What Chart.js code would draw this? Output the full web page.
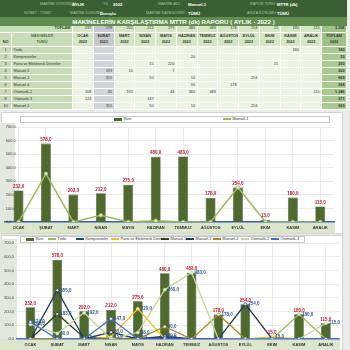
<!DOCTYPE html>
<html lang="tr">
<head>
<meta charset="utf-8">
<script src="https://cdn.jsdelivr.net/npm/chart.js@4.4.1/dist/chart.umd.min.js"></script>
<style>
  body { margin: 0; width: 350px; height: 350px; overflow: hidden; background: #ececec; position: relative;
         font-family: "Liberation Sans", Arial, sans-serif; }
  #topBar { position: absolute; left: 0; top: 0; width: 347px; height: 17px; background: #3b5f34; }
  .lbl { position: absolute; font-size: 3.8px; color: #a8c39a; white-space: nowrap; }
  .val { position: absolute; font-size: 4.2px; color: #fff; font-weight: bold; white-space: nowrap; }
  #title { position: absolute; left: 0; top: 17px; width: 347px; height: 9px; background: #5e8d4d; color: #fff;
           font-weight: bold; font-size: 6.2px; line-height: 9px; text-align: center; white-space: nowrap; }
  #tbl { position: absolute; left: 0; top: 0; }
  .c { position: absolute; box-sizing: border-box; border-right: 1px solid #fff; border-bottom: 1px solid #fff;
       font-size: 3.8px; color: #333; white-space: nowrap; overflow: hidden; padding: 0 1.5px; }
  .box { position: absolute; left: 1px; width: 342px; background: #fff; border: 1px solid #cfd3cc; box-sizing: border-box; }
  .legend { position: absolute; height: 7px; border: 1px solid #c8c8c8; box-sizing: border-box; background: #fff;
            font-size: 3.8px; color: #333; }
  .item { position: absolute; top: 0; height: 5px; line-height: 5px; white-space: nowrap; }
  .sw { display: inline-block; vertical-align: middle; margin-right: 1.5px; }
  canvas { position: absolute; left: 0; }
</style>
</head>
<body>
<div id="topBar"></div>
<div id="title">MAKİNELERİN KARŞILAŞTIRMA MTTR (dk) RAPORU ( AYLIK - 2022 )</div>
<div id="tbl"></div>
<div class="box" style="top:112px;height:122px;"></div>
<div class="box" style="top:235px;height:116px;"></div>
<canvas id="c1" width="344" height="120" style="top:113px;"></canvas>
<canvas id="c2" width="344" height="116" style="top:234px;"></canvas>
<div class="legend" id="leg1" style="left:20px;top:116px;width:310px;"></div>
<div class="legend" id="leg2" style="left:20px;top:236px;width:285px;"></div>
<script>
const months = ["OCAK", "ŞUBAT", "MART", "NİSAN", "MAYIS", "HAZİRAN", "TEMMUZ", "AĞUSTOS", "EYLÜL", "EKİM", "KASIM", "ARALIK"];
const year = "2022";
const sure = [232, 578, 202, 212, 275, 480, 483, 178, 254, 15, 180, 115];

const machineNo = [1, 2, 3, 4, 5, 6, 7, 8, 10];
const machineNames = ["Trafo", "Kompresörler", "Pano ve Elektronik Devreler", "Manuel-5", "Manuel-1", "Manuel-4", "Otomatik-2", "Otomatik-3", "Manuel-1"];
const trafo = [0, 0, 0, 0, 0, 0, 0, 0, 0, 0, 180, 0];
const kompresorler = [0, 0, 0, 0, 0, 20, 0, 0, 0, 0, 0, 0];
const pano = [0, 0, 0, 15, 220, 0, 0, 0, 0, 15, 0, 0];
const manuel5 = [0, 183, 10, 0, 7, 0, 0, 0, 0, 0, 0, 0];
const manuel1 = [0, 355, 0, 50, 0, 10, 0, 0, 254, 0, 0, 0];
const manuel4 = [0, 0, 0, 0, 0, 90, 0, 178, 0, 0, 0, 0];
const otomatik2 = [108, 40, 192, 0, 48, 360, 483, 0, 0, 0, 0, 115];
const otomatik3 = [124, 0, 0, 147, 0, 0, 0, 0, 0, 0, 0, 0];
const machineRows = [trafo, kompresorler, pano, manuel5, manuel1, manuel4, otomatik2, otomatik3, manuel1];

const lineColors = ["#9bbb59", "#1f497d", "#f2c314", "#2e3b1c", "#203864", "#a68a1a", "#c3d69b", "#3f6fd1"];
const yTicks = [0, 100, 200, 300, 400, 500, 600, 700];

const fmtNum = n => String(n).replace(/\B(?=(\d{3})+(?!\d))/g, ".");
const fmtVal = v => v.toFixed(1).replace(".", ",");

// ---- header bar ----
const topBar = document.getElementById("topBar");
function put(cls, x, y, text) {
  const s = document.createElement("span");
  s.className = cls;
  s.style.left = x + "px";
  s.style.top = y + "px";
  s.textContent = text;
  topBar.appendChild(s);
}
put("lbl", 40, 2, "MAKİNE GÖRÜNÜM :"); put("val", 72, 2, "AYLIK");
put("lbl", 103, 2, "YIL :"); put("val", 113, 2, year);
put("lbl", 158, 2, "MAKİNE ADI :"); put("val", 188, 2, "Manuel-1");
put("lbl", 250, 2, "RAPOR TÜRÜ :"); put("val", 277, 2, "MTTR (dk)");
put("lbl", 24, 11, "NÖBET : TÜMÜ");
put("lbl", 70, 11, "MAKİNE DURUMU :"); put("val", 100, 11, "Duruşlu");
put("lbl", 146, 11, "MAKİNE KATEGORİSİ :"); put("val", 188, 11, "TÜMÜ");
put("lbl", 247, 11, "ARIZA KONUMU :"); put("val", 277, 11, "TÜMÜ");

// ---- table ----
const tbl = document.getElementById("tbl");
const colX = [0, 12, 73];
for (let i = 1; i <= 12; i++) colX.push(73 + i * 20.75);
colX.push(347);

function cell(x0, x1, y, h, html, css) {
  const d = document.createElement("div");
  d.className = "c";
  d.style.left = x0 + "px";
  d.style.width = (x1 - x0) + "px";
  d.style.top = y + "px";
  d.style.height = h + "px";
  d.style.lineHeight = (h - 1) + "px";
  Object.assign(d.style, css || {});
  d.innerHTML = html;
  tbl.appendChild(d);
}
const monthBg = m => (m === 1 ? "#d3d3dc" : "#ecf4e4");

// TOPLAM row
cell(0, 73, 26, 6.5, "TOPLAM", { background: "#c8dcb6", textAlign: "right", fontWeight: "bold", color: "#2d4a22" });
sure.forEach((v, m) => cell(colX[2 + m], colX[3 + m], 26, 6.5, v, { background: m === 1 ? "#c7c7d1" : "#d5e6c5", textAlign: "right" }));
cell(colX[14], colX[15], 26, 6.5, fmtNum(sure.reduce((a, b) => a + b, 0)), { background: "#9dc283", textAlign: "right", fontWeight: "bold" });

// header
cell(0, 12, 32.5, 14, "<br>NO", { background: "#c8dcb6", textAlign: "center", lineHeight: "6.5px", color: "#2d4a22", fontWeight: "bold" });
cell(12, 73, 32.5, 14, "MAKİNELER<br>TÜMÜ", { background: "#c8dcb6", textAlign: "center", lineHeight: "6.5px", color: "#3d7a3a", fontWeight: "bold" });
months.forEach((mn, m) => cell(colX[2 + m], colX[3 + m], 32.5, 14, mn + "<br>" + year,
  { background: m === 1 ? "#c7c7d1" : "#d5e6c5", textAlign: "center", lineHeight: "6.5px", fontWeight: "bold", color: "#2d3a28" }));
cell(colX[14], colX[15], 32.5, 14, "TOPLAM<br>" + year, { background: "#9dc283", textAlign: "center", lineHeight: "6.5px", fontWeight: "bold" });

// rows
machineRows.forEach((row, r) => {
  const y = 46.5 + r * 7;
  cell(0, 12, y, 7, machineNo[r], { background: "#c6dcb4", textAlign: "center" });
  cell(12, 73, y, 7, machineNames[r], { background: "#c6dcb4" });
  row.forEach((v, m) => cell(colX[2 + m], colX[3 + m], y, 7, v ? v : "", { background: monthBg(m), textAlign: "right" }));
  cell(colX[14], colX[15], y, 7, fmtNum(row.reduce((a, b) => a + b, 0)), { background: "#a8cb8f", textAlign: "right", fontWeight: "bold" });
});

// ---- charts ----
const bandPlugin = {
  id: "bands",
  beforeDraw(chart, args, opts) {
    const { ctx, chartArea: a } = chart;
    ctx.save();
    ctx.fillStyle = "#dbe6cb";
    ctx.fillRect(0, a.bottom, a.right + 1, chart.height - a.bottom);
    ctx.fillStyle = "#e3e8de";
    ctx.fillRect(0, a.top - 4, opts.leftBand, a.bottom - a.top + 4);
    ctx.restore();
  }
};

const valuePlugin = {
  id: "values",
  afterDatasetsDraw(chart) {
    const ctx = chart.ctx;
    chart.data.datasets.forEach((ds, i) => {
      if (!ds.showValues) return;
      chart.getDatasetMeta(i).data.forEach((el, j) => {
        const v = ds.data[j];
        if (!v) return;
        ctx.save();
        ctx.font = "bold 4.5px 'Liberation Sans', Arial, sans-serif";
        if (ds.type === "bar") {
          ctx.fillStyle = "#c8102e";
          ctx.textAlign = "center";
          ctx.textBaseline = "bottom";
          ctx.fillText(fmtVal(v), el.x, el.y - 1.5);
        } else {
          ctx.fillStyle = "#2f5597";
          ctx.textAlign = "left";
          ctx.textBaseline = "middle";
          ctx.fillText(fmtVal(v), el.x + 3, el.y);
        }
        ctx.restore();
      });
    });
  }
};

function scalesFor(mirror, yWidth, borderColor) {
  return {
    x: {
      grid: { offset: false, color: "#dedede", lineWidth: 0.6, drawTicks: false },
      border: { color: borderColor, width: 1.4 },
      ticks: { font: { size: 4, weight: "bold", family: "'Liberation Sans', Arial" }, color: "#333", padding: 3, maxRotation: 0, autoSkip: false },
      afterFit: s => { s.height = 11; }
    },
    y: {
      min: 0, max: 700,
      afterBuildTicks: s => { s.ticks = yTicks.map(v => ({ value: v })); },
      grid: { color: "#dedede", lineWidth: 0.6, drawTicks: false },
      border: { display: false },
      ticks: { mirror: mirror, padding: mirror ? 1 : 3, font: { size: 4, family: "'Liberation Sans', Arial" }, color: "#444", callback: v => fmtVal(v) },
      afterFit: s => { s.width = yWidth; }
    }
  };
}

const barStyle = { backgroundColor: "#4e6a2c", borderColor: "#34481c", borderWidth: 0.6, barPercentage: 0.36, categoryPercentage: 1 };

new Chart(document.getElementById("c1"), {
  data: {
    labels: months,
    datasets: [
      { type: "line", label: "Manuel-1", data: manuel1, borderColor: "#9bbb59", backgroundColor: "#dfe9cc",
        borderWidth: 1.5, pointRadius: 1.8, pointBorderWidth: 0.8, order: 1 },
      Object.assign({ type: "bar", label: "Süre", data: sure, order: 2, showValues: true }, barStyle)
    ]
  },
  options: {
    animation: false, responsive: false, devicePixelRatio: 1,
    layout: { padding: { left: 4, right: 10, top: 14, bottom: 0 } },
    plugins: { legend: { display: false }, tooltip: { enabled: false }, bands: { leftBand: 15 } },
    scales: scalesFor(true, 0, "#3465a4")
  },
  plugins: [bandPlugin, valuePlugin]
});

const lineSeries = [trafo, kompresorler, pano, manuel5, manuel1, manuel4, otomatik2, otomatik3];
const lineSets = lineSeries.map((data, i) => ({
  type: "line", label: machineNames[i], data: data, borderColor: lineColors[i], backgroundColor: "#eef2ea",
  borderWidth: 1.3, pointRadius: 1.5, pointBorderWidth: 0.7, order: 8 - i, showValues: true
}));

new Chart(document.getElementById("c2"), {
  data: {
    labels: months,
    datasets: [Object.assign({ type: "bar", label: "Süre", data: sure, order: 20, showValues: true }, barStyle)].concat(lineSets)
  },
  options: {
    animation: false, responsive: false, devicePixelRatio: 1,
    layout: { padding: { left: 2, right: 2.5, top: 9, bottom: 0 } },
    plugins: { legend: { display: false }, tooltip: { enabled: false }, bands: { leftBand: 17 } },
    scales: scalesFor(false, 15, "#3f6fd1")
  },
  plugins: [bandPlugin, valuePlugin]
});

// ---- legends ----
function legendItem(leg, x, label, color, isBar) {
  const it = document.createElement("div");
  it.className = "item";
  it.style.left = x + "px";
  const sw = document.createElement("span");
  sw.className = "sw";
  if (isBar) {
    sw.style.cssText = "width:8px;height:3px;background:" + color + ";";
  } else {
    sw.style.cssText = "width:8px;height:1.2px;background:" + color + ";position:relative;";
  }
  it.appendChild(sw);
  it.appendChild(document.createTextNode(label));
  leg.appendChild(it);
}
const leg1 = document.getElementById("leg1");
legendItem(leg1, 93, "Süre", "#4e6a2c", true);
legendItem(leg1, 202, "Manuel-1", "#9bbb59", false);

const leg2 = document.getElementById("leg2");
const leg2X = [25, 47, 75, 110, 160, 185, 212, 240, 270];
legendItem(leg2, leg2X[0] - 20, "Süre", "#4e6a2c", true);
lineSeries.forEach((d, i) => legendItem(leg2, leg2X[i + 1] - 20, machineNames[i], lineColors[i], false));
</script>
</body>
</html>
